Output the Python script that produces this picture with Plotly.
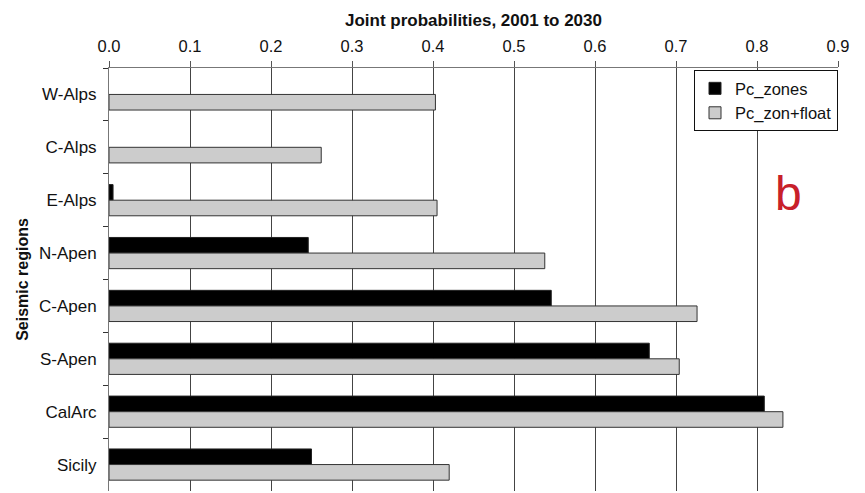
import plotly.graph_objects as go

regions = ["W-Alps", "C-Alps", "E-Alps", "N-Apen", "C-Apen", "S-Apen", "CalArc", "Sicily"]
pc_zones = [None, None, 0.005, 0.246, 0.546, 0.667, 0.809, 0.250]
pc_zon_float = [0.403, 0.262, 0.405, 0.538, 0.726, 0.704, 0.832, 0.420]
x_ticks = [0.0, 0.1, 0.2, 0.3, 0.4, 0.5, 0.6, 0.7, 0.8, 0.9]

FONT = "Liberation Sans, Arial, Helvetica, sans-serif"

fig = go.Figure()
fig.add_trace(go.Bar(
    y=regions, x=pc_zones, orientation="h", name="Pc_zones",
    marker=dict(color="#000000", line=dict(color="#222222", width=1)),
))
fig.add_trace(go.Bar(
    y=regions, x=pc_zon_float, orientation="h", name="Pc_zon+float",
    marker=dict(color="#cccccc", line=dict(color="#333333", width=1)),
))

fig.update_layout(
    width=857, height=485,
    margin=dict(l=101, r=27, t=60, b=2),
    paper_bgcolor="white", plot_bgcolor="white",
    barmode="group", bargap=0.41, bargroupgap=0,
    font=dict(family=FONT, size=17, color="#111111"),
    showlegend=True,
    legend=dict(
        x=1, xanchor="right", y=0.995, yanchor="top",
        bgcolor="white", bordercolor="#111111", borderwidth=1,
        font=dict(size=16.5, color="#111111"),
        itemwidth=30, tracegroupgap=0,
    ),
    xaxis=dict(
        side="top", range=[0, 0.9], tickvals=x_ticks, tickformat=".1f",
        showgrid=True, gridcolor="#444444", gridwidth=1,
        showline=True, linecolor="#777777", linewidth=1,
        ticks="outside", ticklen=6, tickcolor="#555555",
        zeroline=False, automargin=False, ticklabelstandoff=2,
        tickfont=dict(size=16.5),
        title=dict(text="Joint probabilities, 2001 to 2030",
                   font=dict(size=17, weight="bold"), standoff=6),
    ),
    yaxis=dict(
        type="category", autorange="reversed",
        showline=True, linecolor="#777777", linewidth=1,
        ticks="outside", ticklen=5, tickcolor="#333333", tickson="boundaries",
        showgrid=False, tickfont=dict(size=17), automargin=False,
        ticklabelstandoff=8,
        title=dict(text="Seismic regions", font=dict(size=16, weight="bold"), standoff=6),
    ),
)

fig.add_annotation(
    text="b", xref="paper", yref="paper", x=0.932, y=0.703,
    xanchor="center", yanchor="middle",
    showarrow=False, font=dict(family=FONT, size=48, color="#c8202a"),
)

fig.write_html("out.html")
